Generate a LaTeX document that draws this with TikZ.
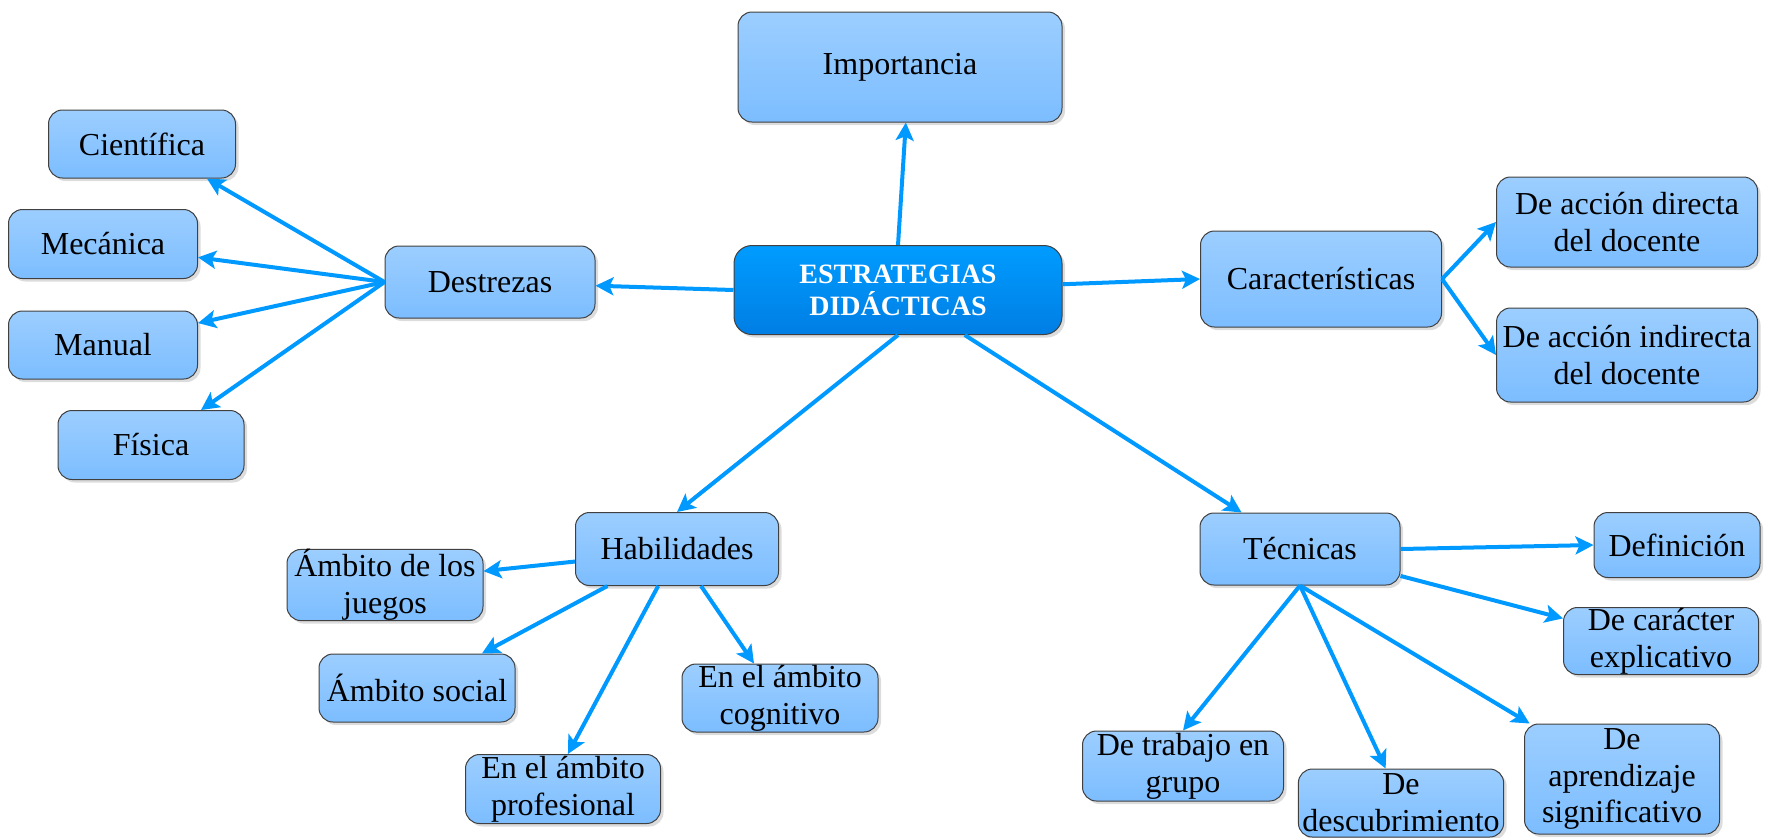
\documentclass[tikz,border=0pt]{standalone}
\usepackage{fontspec}
\setmainfont{Liberation Serif}
\usepackage{tikz}
\usetikzlibrary{arrows.meta}
\usetikzlibrary{shadows}
\usetikzlibrary{shapes}

\definecolor{azulflecha}{RGB}{0,153,255}
\definecolor{azulclaro}{RGB}{156,206,255}
\definecolor{azulmedio}{RGB}{124,189,255}
\definecolor{azulfuerte}{RGB}{0,156,255}
\definecolor{azuloscuro}{RGB}{0,126,228}
\definecolor{borde}{RGB}{64,64,64}

\tikzset{
  idea/.style={rectangle, rounded corners=7pt, draw=borde, line width=0.5pt,
    top color=azulclaro, bottom color=azulmedio,
    drop shadow={shadow xshift=1.5pt, shadow yshift=-1.5pt, fill=black!30, opacity=0.45},
    align=center, inner xsep=2pt, inner ysep=0pt,
    font=\fontsize{16}{18.4}\selectfont},
  centro/.style={idea, rounded corners=9pt, top color=azulfuerte, bottom color=azuloscuro,
    text=white, font=\fontsize{14}{16}\selectfont\bfseries},
  flecha/.style={draw=azulflecha, line width=2pt,
    -{Stealth[length=9pt, width=9pt, inset=2pt]}}
}

\begin{document}
\begin{tikzpicture}[x=0.5pt, y=-0.5pt]
  \useasboundingbox (0,0) rectangle (1791,837);

  \node [centro, minimum width=164pt, minimum height=44.5pt] (estrategias) at (898,290) {ESTRATEGIAS\\DIDÁCTICAS};
  \node [idea, minimum width=162pt, minimum height=55pt] (importancia) at (900,67) {Importancia};

  \node [idea, minimum width=105pt, minimum height=36pt] (destrezas) at (490,282) {Destrezas};
  \node [idea, minimum width=93.5pt, minimum height=34pt] (cientifica) at (142,144) {Científica};
  \node [idea, minimum width=94.5pt, minimum height=34.5pt] (mecanica) at (103,244) {Mecánica};
  \node [idea, minimum width=94.5pt, minimum height=34pt] (manual) at (103,345) {Manual};
  \node [idea, minimum width=93pt, minimum height=34.5pt] (fisica) at (151,445) {Física};

  \node [idea, minimum width=120.5pt, minimum height=48pt] (caracteristicas) at (1321,279) {Características};
  \node [idea, minimum width=130.5pt, minimum height=45pt] (directa) at (1627,222) {De acción directa\\del docente};
  \node [idea, minimum width=130.5pt, minimum height=47pt] (indirecta) at (1627,355) {De acción indirecta\\del docente};

  \node [idea, minimum width=101.5pt, minimum height=36.5pt] (habilidades) at (677,549) {Habilidades};
  \node [idea, minimum width=98pt, minimum height=35.5pt] (juegos) at (385,585) {Ámbito de los\\juegos};
  \node [idea, minimum width=98pt, minimum height=34pt] (social) at (417,688) {Ámbito social};
  \node [idea, minimum width=97.5pt, minimum height=34.5pt] (profesional) at (563,789) {En el ámbito\\profesional};
  \node [idea, minimum width=98pt, minimum height=34pt] (cognitivo) at (780,698) {En el ámbito\\cognitivo};

  \node [idea, minimum width=100pt, minimum height=36pt] (tecnicas) at (1300,549) {Técnicas};
  \node [idea, minimum width=83pt, minimum height=32.5pt] (definicion) at (1677,545) {Definición};
  \node [idea, minimum width=97.5pt, minimum height=33.5pt] (explicativo) at (1661,641) {De carácter\\explicativo};
  \node [idea, minimum width=100.5pt, minimum height=35pt] (grupo) at (1183,766) {De trabajo en\\grupo};
  \node [idea, minimum width=100.5pt, minimum height=34pt] (descubrimiento) at (1401,803) {De\\descubrimiento};
  \node [idea, minimum width=97.5pt, minimum height=55pt] (significativo) at (1622,779) {De\\aprendizaje\\significativo};

  \draw [flecha] (estrategias.north) -- (importancia.-84);
  \draw [flecha] (estrategias.west) -- (destrezas.-2);
  \draw [flecha] (estrategias.2) -- (caracteristicas.west);
  \draw [flecha] (estrategias.south) -- (habilidades.north);
  \draw [flecha] (estrategias.-34) -- (tecnicas.148);

  \draw [flecha] (destrezas.west) -- (cientifica.-28);
  \draw [flecha] (destrezas.west) -- (mecanica.-8);
  \draw [flecha] (destrezas.west) -- (manual.13);
  \draw [flecha] (destrezas.west) -- (fisica.35);

  \draw [flecha] (caracteristicas.east) -- (directa.west);
  \draw [flecha] (caracteristicas.east) -- (indirecta.west);

  \draw [flecha] (habilidades.187) -- (juegos.8);
  \draw [flecha] (habilidades.208) -- (social.28);
  \draw [flecha] (habilidades.243) -- (profesional.82);
  \draw [flecha] (habilidades.-57) -- (cognitivo.127);

  \draw [flecha] (tecnicas.east) -- (definicion.west);
  \draw [flecha] (tecnicas.-15) -- (explicativo.167);
  \draw [flecha] (tecnicas.south) -- (grupo.north);
  \draw [flecha] (tecnicas.south) -- (descubrimiento.114);
  \draw [flecha] (tecnicas.south) -- (significativo.149);
\end{tikzpicture}
\end{document}
